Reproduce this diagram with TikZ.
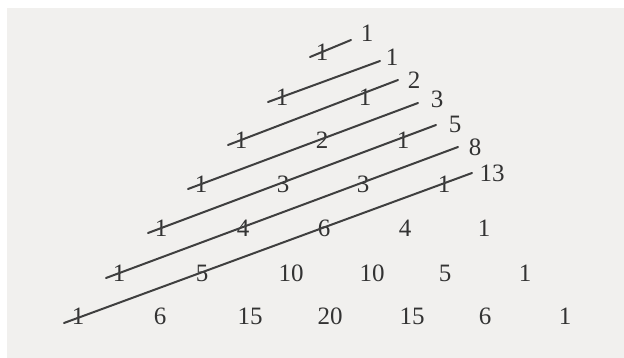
\documentclass[tikz,border=0pt]{standalone}
\usepackage{fontspec}
\setmainfont{Liberation Serif}
\definecolor{paper}{HTML}{F1F0EE}
\definecolor{ink}{HTML}{333333}
\definecolor{pen}{HTML}{3F3F3F}
\tikzset{
  num/.style={inner sep=0pt, text=ink, font=\fontsize{25}{25}\selectfont},
  fib/.style={inner sep=0pt, text=ink, font=\fontsize{25}{25}\selectfont},
  diag/.style={draw=pen, line width=2pt, line cap=round}
}
\begin{document}
\begin{tikzpicture}[x=1pt,y=-1pt]
\useasboundingbox (0,0) rectangle (624,358);
\fill[white] (0,0) rectangle (624,358);
\fill[paper] (7,8) rectangle (624,358);
% Pascal triangle entries
\node[num] (r0-0) at (322,52) {1};
\node[num] (r1-0) at (282,97) {1};
\node[num] (r1-1) at (365,97) {1};
\node[num] (r2-0) at (241,140) {1};
\node[num] (r2-1) at (322,140) {2};
\node[num] (r2-2) at (403,140) {1};
\node[num] (r3-0) at (201,184) {1};
\node[num] (r3-1) at (283,184) {3};
\node[num] (r3-2) at (363,184) {3};
\node[num] (r3-3) at (444,184) {1};
\node[num] (r4-0) at (161,228) {1};
\node[num] (r4-1) at (243,228) {4};
\node[num] (r4-2) at (324,228) {6};
\node[num] (r4-3) at (405,228) {4};
\node[num] (r4-4) at (484,228) {1};
\node[num] (r5-0) at (119,273) {1};
\node[num] (r5-1) at (202,273) {5};
\node[num] (r5-2) at (291,273) {10};
\node[num] (r5-3) at (372,273) {10};
\node[num] (r5-4) at (445,273) {5};
\node[num] (r5-5) at (525,273) {1};
\node[num] (r6-0) at (78,316) {1};
\node[num] (r6-1) at (160,316) {6};
\node[num] (r6-2) at (250,316) {15};
\node[num] (r6-3) at (330,316) {20};
\node[num] (r6-4) at (412,316) {15};
\node[num] (r6-5) at (485,316) {6};
\node[num] (r6-6) at (565,316) {1};
% diagonal line ends
\coordinate (s0) at (310,57);  \coordinate (e0) at (351,40);
\coordinate (s1) at (268,102); \coordinate (e1) at (380,61);
\coordinate (s2) at (228,145); \coordinate (e2) at (398,80);
\coordinate (s3) at (188,189); \coordinate (e3) at (418,103);
\coordinate (s4) at (148,233); \coordinate (e4) at (436,125);
\coordinate (s5) at (106,278); \coordinate (e5) at (458,147);
\coordinate (s6) at (64,323);  \coordinate (e6) at (472,173);
\foreach \i in {0,...,6} { \draw[diag] (s\i) -- (e\i); }
% Fibonacci sums
\node[fib] (f0) at (367,33) {1};
\node[fib] (f1) at (392,57) {1};
\node[fib] (f2) at (414,80) {2};
\node[fib] (f3) at (437,99) {3};
\node[fib] (f4) at (455,124) {5};
\node[fib] (f5) at (475,147) {8};
\node[fib] (f6) at (492,173) {13};
\end{tikzpicture}
\end{document}
